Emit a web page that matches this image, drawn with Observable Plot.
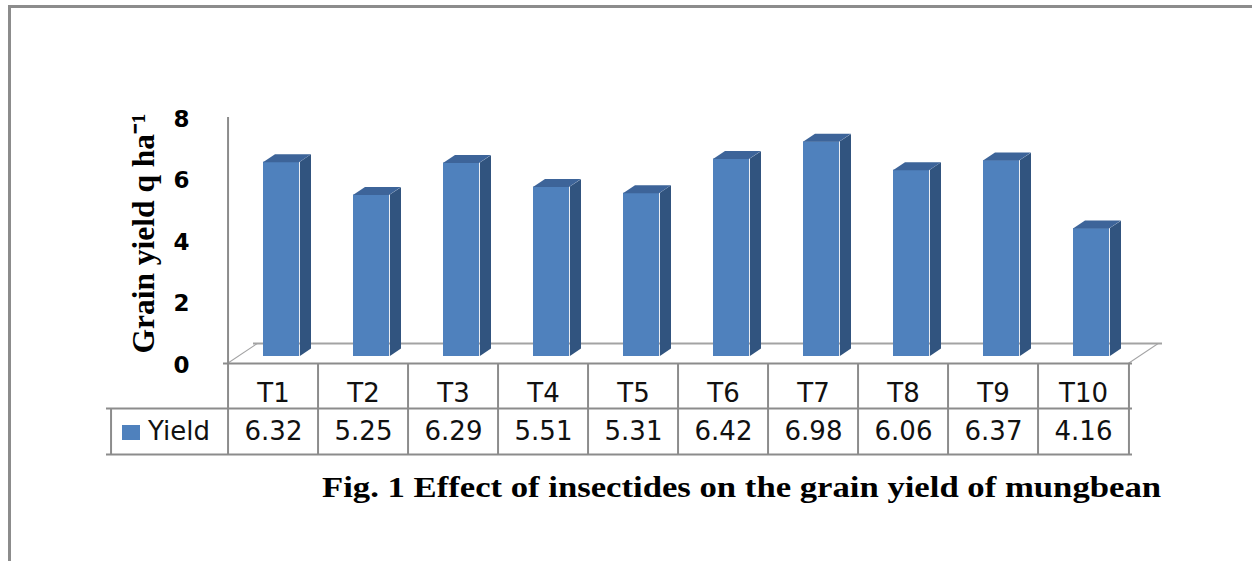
<!DOCTYPE html>
<html>
<head>
<meta charset="utf-8">
<script src="https://cdn.jsdelivr.net/npm/d3@7"></script>
<script src="https://cdn.jsdelivr.net/npm/@observablehq/plot@0.6"></script>
<style>
  html, body { margin: 0; padding: 0; background: #fff; }
  #wrap { position: relative; width: 1252px; height: 561px; overflow: hidden; }
  #frame { position: absolute; left: 8px; top: 5px; width: 1300px; height: 600px;
           border-top: 3px solid #8c8c8c; border-left: 3px solid #8c8c8c; box-sizing: border-box; }
  #chart { position: absolute; left: 0; top: 0; }
  #caption { position: absolute; left: 322px; top: 472px; font-family: "Liberation Serif", serif;
             font-weight: bold; font-size: 30px; line-height: 30px; color: #000; white-space: nowrap;
             transform-origin: 0 0; transform: scaleX(1.156); }
</style>
</head>
<body>
<div id="wrap">
  <div id="frame"></div>
  <div id="chart"></div>
  <div id="caption">Fig. 1 Effect of insectides on the grain yield of mungbean</div>
</div>
<script>
const categories = ["T1", "T2", "T3", "T4", "T5", "T6", "T7", "T8", "T9", "T10"];
const yieldValues = [6.32, 5.25, 6.29, 5.51, 5.31, 6.42, 6.98, 6.06, 6.37, 4.16];
const yTicks = [0, 2, 4, 6, 8];
const seriesName = "Yield";
const yTitle = "Grain yield q ha\u207B\u00B9";

const data = categories.map((c, i) => ({cat: c, value: yieldValues[i]}));

const W = 1252, H = 470;
const mL = 223, mR = 120, mT = 117, mB = 107;
const bw = (W - mL - mR) / categories.length;
const FRONT = "#4f81bd", SIDE = "#31547f", TOP = "#3d6499";
const GRID = "#8c8c8c", FLOOR = "#a3a3a3";

const plot = Plot.plot({
  width: W, height: H,
  marginLeft: mL, marginRight: mR, marginTop: mT, marginBottom: mB,
  x: {type: "band", domain: categories, padding: 0, axis: null},
  y: {domain: [0, 8], axis: null},
  style: {fontFamily: "DejaVu Sans", background: "transparent", overflow: "visible"},
  marks: [
    // floor back edge
    Plot.ruleY([0], {stroke: FLOOR, strokeWidth: 2, dx: 30, dy: -20}),
    // floor diagonals (skewed afterwards)
    Plot.ruleX([categories[0]], {x: d => d, y1: 0, y2: 0, insetTop: -20, dx: -bw / 2, stroke: "#a3a3a4", strokeWidth: 2}),
    Plot.ruleX([categories[categories.length - 1]], {x: d => d, y1: 0, y2: 0, insetTop: -20, dx: bw / 2, stroke: "#a3a3a4", strokeWidth: 2}),
    // y axis line
    Plot.ruleX([categories[0]], {x: d => d, y1: 0, y2: 8, dx: -bw / 2, stroke: GRID, strokeWidth: 2}),
    // bars: front, side, top
    Plot.barY(data, {x: "cat", y: "value", fill: FRONT, insetLeft: 27, insetRight: 27, dx: 8, dy: -7}),
    Plot.barY(data, {x: "cat", y: "value", fill: SIDE, insetLeft: 63.9, insetRight: 15, dx: 8, dy: -7}),
    Plot.tickY(data, {x: "cat", y: "value", stroke: TOP, strokeWidth: 8, insetLeft: 33, insetRight: 21, dx: 8, dy: -11}),
    // y axis tick labels
    Plot.axisY({ticks: yTicks, tickSize: 0, tickPadding: 34, fontSize: 23, fontWeight: "bold", label: null, dy: 2, fill: "#000"}),
    // y axis title
    Plot.text([yTitle], {text: d => d, frameAnchor: "left", textAnchor: "middle", rotate: -90, dx: -80, dy: -7,
      fontFamily: "Liberation Serif", fontWeight: "bold", fontSize: 31.5, fill: "#000"}),
    // data table grid
    Plot.ruleY([0], {stroke: GRID, strokeWidth: 2}),
    Plot.ruleY([0], {stroke: GRID, strokeWidth: 2, dy: 45, insetLeft: -117}),
    Plot.ruleY([0], {stroke: GRID, strokeWidth: 2, dy: 91, insetLeft: -117}),
    Plot.ruleX(categories, {x: d => d, y1: 0, y2: 0, insetBottom: -91, dx: -bw / 2, stroke: GRID, strokeWidth: 2}),
    Plot.ruleX([categories[categories.length - 1]], {x: d => d, y1: 0, y2: 0, insetBottom: -91, dx: bw / 2, stroke: GRID, strokeWidth: 2}),
    Plot.ruleX([categories[0]], {x: d => d, y1: 0, y2: 0, insetTop: 45, insetBottom: -91, dx: -bw / 2 - 117, stroke: GRID, strokeWidth: 2}),
    // table texts
    Plot.text(categories, {x: d => d, y: () => 0, text: d => d, dy: 30, fontSize: 26, fill: "#111"}),
    Plot.text(data, {x: "cat", y: () => 0, text: d => d.value.toFixed(2), dy: 68, fontSize: 26, fill: "#111"}),
    // legend key and series name
    Plot.tickY([seriesName], {x: () => categories[0], y: () => 0, stroke: FRONT, strokeWidth: 15, insetLeft: -106, insetRight: 178, dy: 69}),
    Plot.text([seriesName], {x: () => categories[0], y: () => 0, text: d => d, textAnchor: "start", dx: -bw / 2 - 80, dy: 68, fontSize: 26, fill: "#111"})
  ]
});

document.getElementById("chart").appendChild(plot);

// 3-D shading: skew the side faces, top faces and floor diagonals
const svg = d3.select(plot);
svg.selectAll(`g[fill="${SIDE}"] rect`).each(function () {
  const x = +this.getAttribute("x");
  this.setAttribute("transform", `translate(${x},0) skewY(-33.69) translate(${-x},0)`);
});
svg.selectAll(`g[stroke="${TOP}"] line`).each(function () {
  const y = +this.getAttribute("y1");
  this.setAttribute("transform", `translate(0,${y}) skewX(-56.31) translate(0,${-y})`);
});
svg.selectAll(`g[stroke="#a3a3a4"] line`).each(function () {
  const y = Math.max(+this.getAttribute("y1"), +this.getAttribute("y2"));
  this.setAttribute("transform", `translate(0,${y}) skewX(-56.31) translate(0,${-y})`);
});
</script>
</body>
</html>
